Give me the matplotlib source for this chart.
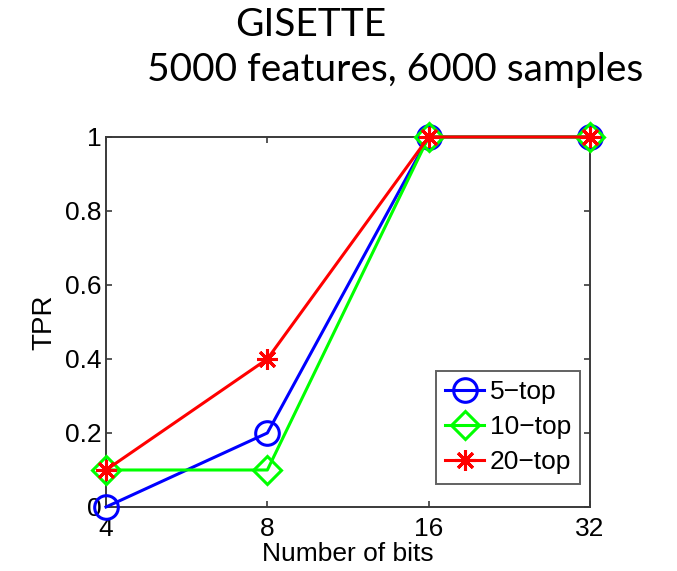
import matplotlib
matplotlib.use("Agg")
import matplotlib.pyplot as plt

bits = [4, 8, 16, 32]
tpr_5top = [0.0, 0.2, 1.0, 1.0]
tpr_10top = [0.1, 0.1, 1.0, 1.0]
tpr_20top = [0.1, 0.4, 1.0, 1.0]
series_labels = ["5\u2212top", "10\u2212top", "20\u2212top"]
y_ticks = [0, 0.2, 0.4, 0.6, 0.8, 1]
y_tick_labels = ["0", "0.2", "0.4", "0.6", "0.8", "1"]

fig = plt.figure(figsize=(6.77, 5.71), dpi=100)
ax = fig.add_axes([0.1566, 0.1121, 0.7149, 0.648])

tick_font = "Liberation Sans"
styles = [
    dict(color="#0000ff", marker="o", markersize=17, markerfacecolor="none"),
    dict(color="#00ff00", marker="D", markersize=14, markerfacecolor="none"),
    dict(color="#ff0000", marker=(8, 2, 0), markersize=15, markerfacecolor="none"),
]
for vals, lab, st in zip([tpr_5top, tpr_10top, tpr_20top], series_labels, styles):
    ax.plot(bits, vals, label=lab, linewidth=2.2, markeredgewidth=2.2,
            clip_on=False, zorder=3, **st)

ax.set_xscale("log", base=2)
ax.set_xlim(4, 32)
ax.set_ylim(0, 1)
ax.set_xticks(bits)
ax.set_xticklabels([str(b) for b in bits])
ax.minorticks_off()
ax.set_yticks(y_ticks)
ax.set_yticklabels(y_tick_labels)

for sp in ax.spines.values():
    sp.set_color("#3a3a3a")
    sp.set_linewidth(1.4)
ax.tick_params(direction="in", length=4, width=1.2, color="#3a3a3a",
               top=True, right=True, labelsize=19)
ax.tick_params(axis="x", pad=7)
ax.tick_params(axis="y", pad=3)
for t in ax.get_xticklabels() + ax.get_yticklabels():
    t.set_fontfamily(tick_font)

ax.set_xlabel("Number of bits", fontsize=19, fontfamily=tick_font, labelpad=1)
ax.set_ylabel("TPR", fontsize=20, fontfamily=tick_font, labelpad=6)

leg = ax.legend(loc="lower right", bbox_to_anchor=(0.98, 0.063),
                prop={"family": tick_font, "size": 19}, frameon=True,
                fancybox=False, handlelength=1.5, handletextpad=0.2,
                borderpad=0.35, labelspacing=0.42, borderaxespad=0)
leg.get_frame().set_edgecolor("#3a3a3a")
leg.get_frame().set_linewidth(1.4)

fig.text(0.4594, 0.956, "GISETTE", fontsize=28, fontfamily="Lato",
         ha="center", va="center")
fig.text(0.5835, 0.877, "5000 features, 6000 samples", fontsize=28,
         fontfamily="Lato", ha="center", va="center")

fig.savefig("out.png", dpi=100)
